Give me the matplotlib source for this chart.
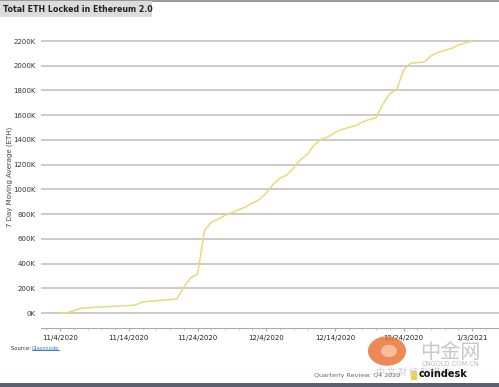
import matplotlib
matplotlib.use("Agg")
import matplotlib.pyplot as plt
import matplotlib.dates as mdates
from matplotlib.patches import Rectangle, Circle
import datetime as dt

plt.rcParams['font.family'] = ['DejaVu Sans', 'Noto Sans CJK SC']

start = dt.date(2020, 11, 4)
values_k = [0, 3, 20, 38, 42, 46, 49, 52, 55, 58, 61, 65, 90, 95, 99, 104, 108, 115,
            210, 285, 315, 665, 735, 760, 790, 812, 835, 858, 890, 918, 970, 1040,
            1090, 1116, 1175, 1240, 1285, 1360, 1405, 1425, 1460, 1484, 1500, 1515,
            1545, 1565, 1580, 1690, 1775, 1805, 1965, 2020, 2025, 2030, 2080, 2108,
            2125, 2140, 2168, 2185, 2200]
dates = [start + dt.timedelta(days=i) for i in range(len(values_k))]
tick_dates = [dt.date(2020, 11, 4), dt.date(2020, 11, 14), dt.date(2020, 11, 24),
              dt.date(2020, 12, 4), dt.date(2020, 12, 14), dt.date(2020, 12, 24),
              dt.date(2021, 1, 3)]
tick_labels = ["11/4/2020", "11/14/2020", "11/24/2020", "12/4/2020", "12/14/2020",
               "12/24/2020", "1/3/2021"]
yticks = list(range(0, 2201, 200))
ytick_labels = [f"{v}K" for v in yticks]

W, H = 499, 387
fig = plt.figure(figsize=(W/100, H/100), dpi=100)
fig.patch.set_facecolor('white')

ax = fig.add_axes([41/W, 1 - 328/H, (499-41)/W, (328-30)/H])
ax.set_facecolor('white')
ax.plot(dates, values_k, color='#E9DA78', lw=1.1, zorder=3)

x0 = mdates.date2num(start)
ax.set_xlim(x0 - 2.8, x0 + 63.9)
ax.set_ylim(-121, 2289)

ax.set_yticks(yticks)
ax.set_yticklabels(ytick_labels, fontsize=5, color='#333333')
ax.yaxis.grid(True, color='#BDBDBD', lw=1.1)
ax.tick_params(axis='y', length=0, pad=4)

ax.set_xticks([mdates.date2num(d) for d in tick_dates])
ax.set_xticklabels(tick_labels, fontsize=5, color='#222222')
ax.tick_params(axis='x', length=2, color='#AAAAAA', pad=3)
ax.set_xticks([x0 + i for i in range(-2, 64, 2)], minor=True)
ax.tick_params(axis='x', which='minor', length=1.2, color='#BBBBBB')

for s in ['top', 'right', 'left']:
    ax.spines[s].set_visible(False)
ax.spines['bottom'].set_color('#AAAAAA')
ax.spines['bottom'].set_linewidth(0.8)
ax.set_axisbelow(True)

fig.text(10/W, 1 - 177/H, "7 Day Moving Average (ETH)", rotation=90, fontsize=5,
         color='#444444', ha='center', va='center')

# top line and title box
fig.add_artist(Rectangle((0, 1 - 1.5/H), 1, 1.5/H, transform=fig.transFigure,
                         color='#9A9A9A', lw=0))
fig.add_artist(Rectangle((0, 1 - 17/H), 152/W, 16/H, transform=fig.transFigure,
                         color='#DCDCDC', lw=0))
fig.text(3/W, 1 - 9/H, "Total ETH Locked in Ethereum 2.0", fontsize=5.7,
         fontweight='bold', color='#222222', ha='left', va='center')

# source
fig.text(11/W, 1 - 348/H, "Source: ", fontsize=3.8, color='#333333',
         ha='left', va='center')
fig.text(32/W, 1 - 348/H, "Glassnode", fontsize=3.8, color='#3F7FD0',
         ha='left', va='center')
fig.add_artist(Rectangle((32/W, 1 - 351/H), 28/W, 0.6/H, transform=fig.transFigure,
                         color='#3F7FD0', lw=0))

# watermark
fig.add_artist(Circle((387/W, 1 - 351/H), 19/W, transform=fig.transFigure,
                      color='#E9743A', alpha=0.85, lw=0))
fig.add_artist(Circle((389/W, 1 - 351/H), 8/W, transform=fig.transFigure,
                      color='#F6C6A0', alpha=0.9, lw=0))
fig.text(450/W, 1 - 352/H, "中金网", fontsize=14.5, color='#C8C8C8',
         ha='center', va='center', family=['Noto Sans CJK SC'])
fig.text(451/W, 1 - 364/H, "CNGOLD.COM.CN", fontsize=4.8, color='#BBBBBB',
         ha='center', va='center')
fig.text(414/W, 1 - 372/H, "中 文 财 经 新 媒 体", fontsize=6.5, color='#CFCFCF',
         ha='center', va='center', family=['Noto Sans CJK SC'])

# footer
fig.text(357/W, 1 - 375/H, "Quarterly Review: Q4 2020", fontsize=4.6, color='#666666',
         ha='center', va='center', family=['Liberation Sans Narrow', 'DejaVu Sans'])
fig.add_artist(Rectangle((411/W, 1 - 380/H), 6/W, 9/H, transform=fig.transFigure,
                         color='#F2D23C', lw=0))
fig.text(419/W, 1 - 374/H, "coindesk", fontsize=7, fontweight='bold', color='#111111',
         ha='left', va='center')

# bottom strip
fig.add_artist(Rectangle((0, 0), 1, 4/H, transform=fig.transFigure,
                         color='#596070', lw=0))

fig.savefig("out.png", dpi=100, facecolor='white')
